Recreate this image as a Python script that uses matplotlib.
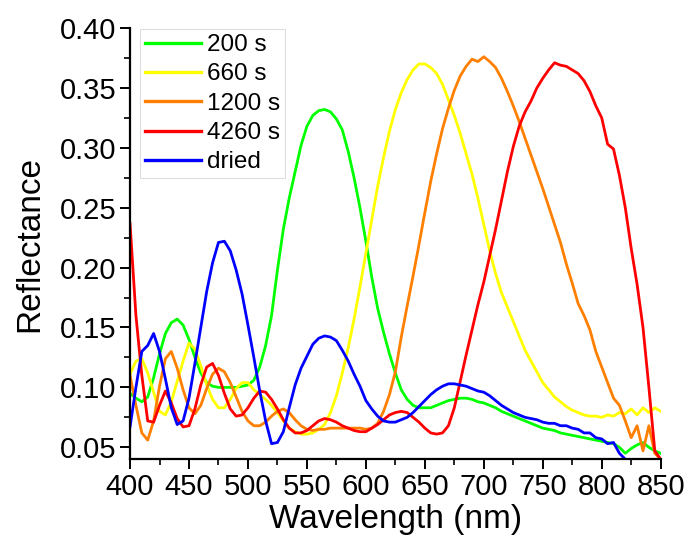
import numpy as np
import matplotlib
matplotlib.use("Agg")
import matplotlib.pyplot as plt

plt.rcParams['font.family'] = ['Liberation Sans', 'DejaVu Sans']

# Reflectance spectra sampled every 5 nm starting at 400 nm
start_nm = 400
step_nm = 5

r_200s = [0.095, 0.091, 0.088, 0.092, 0.108, 0.128, 0.145, 0.154, 0.157, 0.152,
          0.140, 0.125, 0.112, 0.104, 0.101, 0.100, 0.100, 0.100, 0.100, 0.101,
          0.102, 0.106, 0.117, 0.135, 0.160, 0.198, 0.232, 0.258, 0.280, 0.302,
          0.318, 0.327, 0.331, 0.332, 0.330, 0.324, 0.315, 0.297, 0.275, 0.250,
          0.222, 0.192, 0.166, 0.146, 0.128, 0.112, 0.098, 0.090, 0.085, 0.083,
          0.083, 0.083, 0.085, 0.087, 0.089, 0.090, 0.091, 0.091, 0.090, 0.088,
          0.087, 0.085, 0.083, 0.080, 0.078, 0.076, 0.074, 0.072, 0.070, 0.068,
          0.066, 0.065, 0.064, 0.062, 0.061, 0.060, 0.059, 0.058, 0.057, 0.056,
          0.055, 0.054, 0.053, 0.050, 0.045, 0.049, 0.052, 0.054, 0.050, 0.047,
          0.045]

r_660s = [0.111, 0.122, 0.124, 0.112, 0.096, 0.080, 0.077, 0.088, 0.105, 0.122,
          0.137, 0.132, 0.118, 0.102, 0.090, 0.083, 0.083, 0.090, 0.099, 0.104,
          0.104, 0.098, 0.094, 0.090, 0.085, 0.079, 0.072, 0.066, 0.063, 0.061,
          0.061, 0.062, 0.065, 0.069, 0.079, 0.093, 0.112, 0.133, 0.157, 0.184,
          0.212, 0.240, 0.268, 0.292, 0.314, 0.332, 0.346, 0.357, 0.365, 0.370,
          0.370, 0.367, 0.362, 0.353, 0.340, 0.327, 0.312, 0.295, 0.278, 0.258,
          0.236, 0.214, 0.195, 0.179, 0.167, 0.155, 0.143, 0.131, 0.122, 0.113,
          0.104, 0.098, 0.092, 0.088, 0.084, 0.081, 0.079, 0.077, 0.076, 0.076,
          0.075, 0.077, 0.076, 0.079, 0.078, 0.082, 0.077, 0.083, 0.079, 0.083,
          0.080]

r_1200s = [0.110, 0.085, 0.062, 0.056, 0.072, 0.101, 0.124, 0.130, 0.116, 0.098,
           0.083, 0.078, 0.085, 0.099, 0.111, 0.116, 0.113, 0.104, 0.092, 0.080,
           0.072, 0.068, 0.068, 0.071, 0.076, 0.080, 0.082, 0.079, 0.073, 0.068,
           0.065, 0.064, 0.065, 0.065, 0.066, 0.066, 0.066, 0.066, 0.066, 0.066,
           0.065, 0.066, 0.070, 0.080, 0.094, 0.113, 0.142, 0.168, 0.193, 0.219,
           0.246, 0.272, 0.295, 0.316, 0.333, 0.348, 0.360, 0.368, 0.374, 0.372,
           0.376, 0.372, 0.367, 0.358, 0.347, 0.335, 0.322, 0.308, 0.294, 0.280,
           0.266, 0.251, 0.236, 0.221, 0.203, 0.187, 0.170, 0.160, 0.148, 0.130,
           0.117, 0.104, 0.091, 0.085, 0.072, 0.058, 0.068, 0.047, 0.068, 0.045,
           0.040]

r_4260s = [0.237, 0.160, 0.110, 0.072, 0.071, 0.085, 0.097, 0.087, 0.074, 0.067,
           0.068, 0.082, 0.102, 0.117, 0.120, 0.110, 0.095, 0.082, 0.076, 0.077,
           0.083, 0.091, 0.097, 0.096, 0.090, 0.082, 0.073, 0.066, 0.062, 0.062,
           0.064, 0.068, 0.072, 0.074, 0.073, 0.071, 0.068, 0.066, 0.064, 0.063,
           0.063, 0.066, 0.069, 0.073, 0.077, 0.079, 0.080, 0.079, 0.075, 0.071,
           0.066, 0.062, 0.061, 0.062, 0.068, 0.083, 0.105, 0.127, 0.148, 0.169,
           0.188, 0.210, 0.232, 0.256, 0.280, 0.301, 0.318, 0.330, 0.339, 0.350,
           0.358, 0.365, 0.371, 0.369, 0.368, 0.365, 0.362, 0.356, 0.347, 0.335,
           0.325, 0.303, 0.299, 0.277, 0.250, 0.216, 0.186, 0.150, 0.100, 0.047,
           0.040]

r_dried = [0.067, 0.100, 0.130, 0.135, 0.145, 0.130, 0.107, 0.083, 0.069, 0.072,
           0.091, 0.120, 0.150, 0.180, 0.204, 0.221, 0.222, 0.214, 0.198, 0.178,
           0.152, 0.125, 0.097, 0.072, 0.053, 0.054, 0.063, 0.083, 0.102, 0.116,
           0.126, 0.136, 0.141, 0.143, 0.142, 0.139, 0.131, 0.122, 0.111, 0.101,
           0.089, 0.082, 0.076, 0.072, 0.071, 0.071, 0.073, 0.075, 0.079, 0.084,
           0.089, 0.094, 0.098, 0.101, 0.103, 0.103, 0.102, 0.101, 0.099, 0.097,
           0.096, 0.093, 0.089, 0.085, 0.082, 0.079, 0.077, 0.075, 0.074, 0.073,
           0.071, 0.070, 0.070, 0.068, 0.068, 0.066, 0.065, 0.062, 0.062, 0.058,
           0.057, 0.053, 0.054, 0.045, 0.040, 0.034]

labels = ["200 s", "660 s", "1200 s", "4260 s", "dried"]
colors = ["#00ff00", "#ffff00", "#ff8000", "#ff0000", "#0000ff"]
series = [r_200s, r_660s, r_1200s, r_4260s, r_dried]

x_ticks = [400, 450, 500, 550, 600, 650, 700, 750, 800, 850]
y_ticks = [0.05, 0.10, 0.15, 0.20, 0.25, 0.30, 0.35, 0.40]

fig = plt.figure(figsize=(6.88, 5.43), dpi=100)
ax = fig.add_axes([0.1890, 0.1542, 0.7713, 0.7942])

for vals, lab, col in zip(series, labels, colors):
    wl = start_nm + step_nm * np.arange(len(vals))
    ax.plot(wl, vals, color=col, lw=2.0, label=lab)

ax.set_xlim(400, 850)
ax.set_ylim(0.04, 0.40)
ax.set_xticks(x_ticks)
ax.set_yticks(y_ticks)
ax.set_yticklabels([f"{v:.2f}" for v in y_ticks])
ax.set_xticks(np.arange(425, 850, 50), minor=True)
ax.set_yticks(np.arange(0.075, 0.40, 0.05), minor=True)

for side in ("top", "right"):
    ax.spines[side].set_visible(False)
for side in ("left", "bottom"):
    ax.spines[side].set_linewidth(1.6)

ax.tick_params(which="major", direction="out", length=7, width=1.4,
               labelsize=21, pad=3)
ax.tick_params(which="minor", direction="out", length=4, width=1.2)

ax.set_xlabel("Wavelength (nm)", fontsize=24, labelpad=2)
ax.set_ylabel("Reflectance", fontsize=24, labelpad=10)

leg = ax.legend(loc="upper left", bbox_to_anchor=(140.3 / 688, 1 - 29.3 / 543),
                bbox_transform=fig.transFigure, borderaxespad=0,
                fontsize=17.5, frameon=True, fancybox=False, framealpha=1,
                edgecolor="#dddddd", handlelength=2.3, handletextpad=0.25,
                labelspacing=0.3, borderpad=0.2)
leg.get_frame().set_linewidth(0.8)
for line in leg.get_lines():
    line.set_linewidth(2.4)

fig.savefig("out.png", dpi=100)
